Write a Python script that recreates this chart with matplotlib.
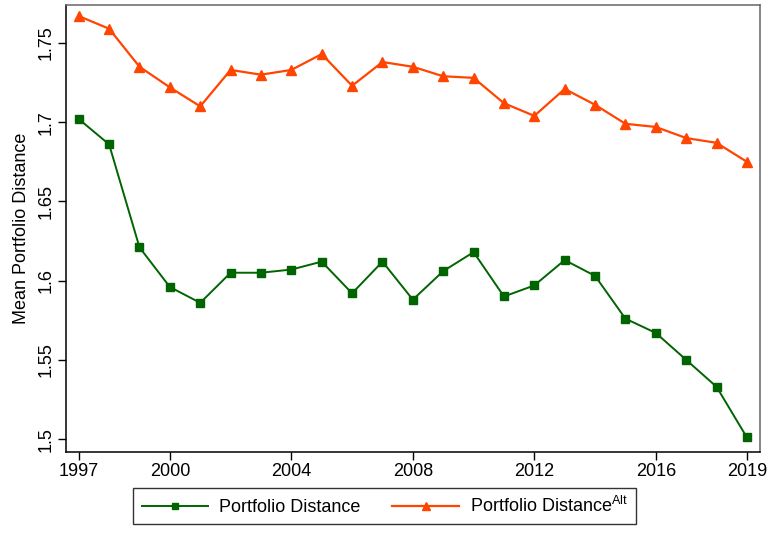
import matplotlib
matplotlib.use("Agg")
import matplotlib.pyplot as plt

plt.rcParams['font.family'] = ['Liberation Sans', 'DejaVu Sans']
plt.rcParams['mathtext.fontset'] = 'custom'
plt.rcParams['mathtext.rm'] = 'Liberation Sans'
plt.rcParams['mathtext.it'] = 'Liberation Sans:italic'

years = list(range(1997, 2020))
portfolio_distance = [1.702, 1.686, 1.621, 1.596, 1.586, 1.605, 1.605, 1.607,
                      1.612, 1.592, 1.612, 1.588, 1.606, 1.618, 1.590, 1.597,
                      1.613, 1.603, 1.576, 1.567, 1.550, 1.533, 1.501]
portfolio_distance_alt = [1.767, 1.759, 1.735, 1.722, 1.710, 1.733, 1.730, 1.733,
                          1.743, 1.723, 1.738, 1.735, 1.729, 1.728, 1.712, 1.704,
                          1.721, 1.711, 1.699, 1.697, 1.690, 1.687, 1.675]
x_ticks = [1997, 2000, 2004, 2008, 2012, 2016, 2019]
y_ticks = [1.5, 1.55, 1.6, 1.65, 1.7, 1.75]
y_tick_labels = ['1.5', '1.55', '1.6', '1.65', '1.7', '1.75']

green = '#006400'
orange = '#FF4500'
fs = 13

fig = plt.figure(figsize=(7.7, 5.35), dpi=100)
ax = fig.add_axes([0.0857, 0.155, 0.9013, 0.8357])

ax.plot(years, portfolio_distance, color=green, lw=1.4, marker='s',
        markersize=5.5, label='Portfolio Distance')
ax.plot(years, portfolio_distance_alt, color=orange, lw=1.6, marker='^',
        markersize=6.5, label=r'Portfolio Distance$^{\mathrm{Alt}}$')

ax.set_xlim(1996.58, 2019.43)
ax.set_ylim(1.4918, 1.774)
ax.set_xticks(x_ticks)
ax.set_xticklabels([str(t) for t in x_ticks], fontsize=fs)
ax.set_yticks(y_ticks)
ax.set_yticklabels(y_tick_labels, fontsize=fs, rotation=90, va='center')
ax.tick_params(direction='out', length=6, width=1, colors='black')
ax.tick_params(axis='x', pad=2)
ax.tick_params(axis='y', pad=2)
ax.set_ylabel('Mean Portfolio Distance', fontsize=fs, labelpad=6)

for side in ['left', 'bottom']:
    ax.spines[side].set_color('black')
    ax.spines[side].set_linewidth(1.1)
for side in ['top', 'right']:
    ax.spines[side].set_color('#666666')
    ax.spines[side].set_linewidth(1.1)

leg = fig.legend(loc='lower center', bbox_to_anchor=(0.4995, 0.003), ncol=2,
                 fontsize=fs, frameon=True, fancybox=False, handlelength=3.7,
                 columnspacing=1.75, borderpad=0.45, handletextpad=0.6,
                 markerscale=0.85)
leg.get_frame().set_edgecolor('black')
leg.get_frame().set_linewidth(1.0)

fig.savefig('out.png', dpi=100)
